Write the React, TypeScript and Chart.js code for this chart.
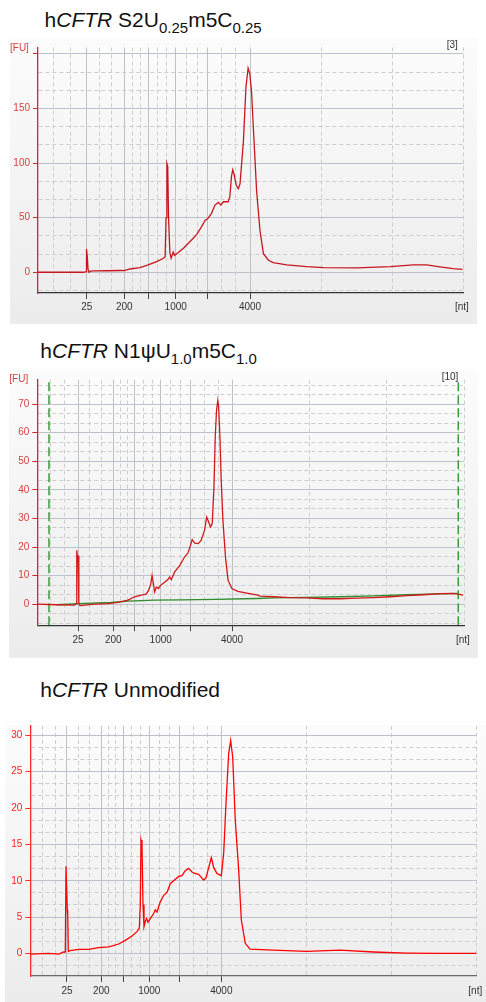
import React, { useEffect, useRef } from 'react';
import { Chart, registerables } from 'chart.js';

Chart.register(...registerables);

// ---------- Shared x-axis tick labels (nt, Bioanalyzer ladder) ----------
const ladderLabels = ['25', '200', '', '1000', '', '4000'];

// ---------- Panel 1: hCFTR S2U0.25 m5C0.25 (x = position along time axis, % of axis) ----------
const s2uPos = [0, 10.7, 11.3, 11.36, 11.45, 11.6, 11.76, 12.0, 12.4, 13.0, 16.2, 19.3, 20.3, 21.6, 24.0, 25.9, 27.9, 29.5, 29.9, 30.1, 30.3, 30.5, 30.7, 31.0, 31.3, 31.8, 32.1, 32.6, 33.4, 34.2, 35.7, 37.3, 38.5, 39.3, 40.0, 40.8, 41.6, 42.4, 43.0, 43.6, 44.7, 45.1, 45.5, 45.8, 46.1, 46.6, 47.1, 47.5, 48.3, 48.9, 49.4, 49.8, 50.2, 50.6, 51.0, 51.4, 52.2, 53.0, 54.2, 55.3, 58.5, 63.2, 67.1, 74.9, 82.8, 88.2, 91.4, 94.5, 97.6, 99.8];
const s2uFU = [0, 0, 0.5, 12, 21.3, 14, 3, 0, 1.0, 1.2, 1.4, 1.6, 1.5, 3, 4.3, 6.7, 9.8, 12.8, 14.5, 50, 99.7, 97, 50, 18, 13, 18.5, 15.5, 17, 19.5, 22, 28, 34.5, 42, 47.5, 49.5, 54, 61.6, 64, 61.6, 64.6, 64.6, 69, 88, 94, 90, 80, 76.5, 81, 120, 170, 187, 182, 166, 135, 105, 74.5, 38, 17, 11, 8.8, 6.7, 5.1, 4.2, 4, 5.1, 6.7, 6.7, 5, 3.3, 2.7];
const s2uXMajor = [11.45, 20.29, 25.93, 32.38, 39.90, 49.85];
const s2uXMinor = [3.76, 7.69, 14.40, 17.35, 22.17, 24.05, 28.08, 30.23, 34.89, 37.39, 43.22, 46.53, 66.71, 83.40, 100];
const s2uYMajor = [0, 50, 100, 150, 200];
const s2uYLabels = ['0', '50', '100', '150', ''];
const s2uYMinor = [-16.67, 16.67, 33.33, 66.67, 83.33, 116.67, 133.33, 166.67, 183.33];

// ---------- Panel 2: hCFTR N1ψU1.0 m5C1.0 ----------
const n1Pos = [0, 4.45, 8.76, 9.14, 9.2, 9.3, 9.47, 9.54, 9.7, 9.77, 10.0, 11.1, 13.45, 16.57, 18.9, 21.26, 22.8, 24.4, 25.5, 26.1, 26.6, 26.9, 27.2, 27.5, 27.9, 28.4, 28.9, 29.9, 30.6, 31.0, 31.4, 32.2, 33.4, 34.5, 35.3, 35.9, 36.3, 36.9, 37.7, 38.4, 39.2, 39.7, 40.0, 40.6, 41.0, 41.4, 41.7, 42.0, 42.3, 42.5, 42.8, 43.1, 43.5, 44.1, 44.7, 45.6, 47.0, 49.4, 51.7, 52.2, 55.3, 59.2, 63.1, 67.0, 70.9, 74.9, 78.7, 82.7, 86.6, 90.5, 94.4, 97.5, 99.8];
const n1FU = [0, -0.2, -0.3, 0.2, 10, 18.9, 15, 17, 8, 0.2, -0.5, -0.3, 0, 0.2, 0.6, 1.4, 2.6, 3.2, 3.5, 4.9, 7.2, 10, 7.2, 4.3, 6, 5.5, 6.6, 7.8, 8.6, 9.5, 8.6, 11.3, 13.6, 16.5, 17.9, 20.6, 22.6, 21.4, 21.2, 22.3, 25.9, 30.5, 29.4, 27, 28.2, 41, 58.5, 67.8, 71.3, 69, 58.5, 43.3, 29.4, 16.5, 8.4, 5.5, 4.5, 3.8, 3.2, 2.8, 2.6, 2.3, 2.2, 1.9, 1.9, 2.1, 2.3, 2.6, 3, 3.3, 3.7, 3.8, 3.2];
const n1BasePos = [4.45, 9.5, 17.3, 21.3, 27.5, 33.7, 41.6, 51.7, 55.3, 63.1, 70.9, 78.7, 86.6, 94.4, 98.7];
const n1BaseFU = [-0.2, 0.2, 0.6, 1.1, 1.4, 1.5, 1.7, 2.0, 2.2, 2.4, 2.6, 2.9, 3.3, 3.6, 3.8];
const n1Markers = [2.74, 98.66];
const n1XMajor = [9.54, 17.81, 22.83, 28.92, 35.95, 45.63];
const n1XMinor = [3.12, 6.33, 12.30, 15.06, 19.48, 21.16, 24.86, 26.89, 31.26, 33.61, 39.18, 42.40, 63.75, 81.88, 100];
const n1YMajor = [0, 10, 20, 30, 40, 50, 60, 70];
const n1YLabels = ['0', '10', '20', '30', '40', '50', '60', '70'];
const n1YMinor = [-6.67, -3.33, 3.33, 6.67, 13.33, 16.67, 23.33, 26.67, 33.33, 36.67, 43.33, 46.67, 53.33, 56.67, 63.33, 66.67, 73.33, 76.67];

// ---------- Panel 3: hCFTR Unmodified ----------
const unPos = [0, 4.12, 6.36, 7.48, 7.84, 8.0, 8.15, 8.29, 8.38, 8.51, 8.96, 10.84, 13.08, 15.32, 17.56, 19.8, 21.28, 22.78, 23.9, 24.42, 24.64, 24.8, 25.02, 25.25, 25.47, 25.76, 26.07, 26.37, 26.88, 27.64, 28.0, 28.38, 29.12, 29.88, 30.62, 31.36, 32.12, 33.24, 33.98, 34.72, 35.48, 36.22, 36.96, 37.72, 38.84, 39.36, 39.96, 40.55, 41.08, 41.82, 42.79, 43.32, 43.84, 44.44, 44.89, 45.34, 45.92, 46.68, 47.27, 48.16, 49.22, 54.44, 61.92, 69.38, 76.84, 84.32, 91.78, 100];
const unFU = [-0.1, 0, -0.1, 0.2, 0.2, 12, 12, 6, 5.5, 0.3, 0.4, 0.55, 0.55, 0.8, 0.9, 1.3, 1.8, 2.4, 3.0, 3.45, 6.7, 15.6, 14.9, 6.7, 3.7, 4.4, 4.8, 4.3, 4.8, 5.5, 6, 5.7, 7.1, 8, 8.4, 9.6, 10, 10.6, 10.7, 11.4, 11.7, 11.2, 11, 10.9, 10.1, 10.4, 11.8, 13.2, 11.8, 11, 10.7, 13.8, 20.7, 27.5, 29.3, 27, 18.3, 11.5, 4.6, 1.4, 0.6, 0.45, 0.3, 0.45, 0.2, 0.05, 0, 0];
const unXMajor = [8.22, 15.90, 20.77, 26.66, 33.38, 42.79];
const unXMinor = [2.78, 5.60, 10.78, 13.34, 17.52, 19.15, 22.73, 24.70, 28.90, 31.14, 36.52, 39.65, 61.86, 80.93, 100];
const unYMajor = [0, 5, 10, 15, 20, 25, 30];
const unYLabels = ['0', '5', '10', '15', '20', '25', '30'];
const unYMinor = [-1.67, 1.67, 3.33, 6.67, 8.33, 11.67, 13.33, 16.67, 18.33, 21.67, 23.33, 26.67, 28.33];

const FONT = '"Liberation Sans", Arial, Helvetica, sans-serif';
const GRID_MAJOR = '#bcc1cb';
const GRID_MINOR = '#cdcdcd';

type Trace = { x: number[]; y: number[]; color: string; width: number };
type PanelProps = {
  box: { l: number; t: number; w: number; h: number };
  plot: { l: number; r: number; t: number; b: number };
  yMin: number; yMax: number;
  yMajor: number[]; yLabels: string[]; yMinor: number[];
  xMajor: number[]; xLabels: string[]; xMinor: number[];
  traces: Trace[];
  markers?: number[];
  markerColor?: string;
  yAxisColor: string; yLabelColor: string; xAxisColor: string; xLabelPad: number;
};

const near = (arr: number[], v: number) => arr.findIndex((a) => Math.abs(a - v) < 1e-6);

function Panel(p: PanelProps) {
  const ref = useRef<HTMLCanvasElement>(null);
  const extra = 12;
  const cL = p.box.l, cT = p.box.t - extra, cW = p.box.w, cH = p.box.h + extra;
  useEffect(() => {
    const xTicks = [...p.xMajor, ...p.xMinor].sort((a, b) => a - b);
    const yTicks = [...p.yMajor, ...p.yMinor].sort((a, b) => a - b);
    const datasets: any[] = p.traces.map((t) => ({
      data: t.x.map((x, i) => ({ x, y: t.y[i] })),
      borderColor: t.color,
      borderWidth: t.width,
      pointRadius: 0,
      fill: false,
      tension: 0,
    }));
    (p.markers || []).forEach((m) => {
      datasets.push({
        data: [{ x: m, y: p.yMin }, { x: m, y: p.yMax }],
        borderColor: p.markerColor,
        borderWidth: 1.5,
        borderDash: [9, 4],
        pointRadius: 0,
        fill: false,
      });
    });
    const isMajorTick = (arr: number[]) => (c: any) => c.tick && near(arr, c.tick.value) >= 0;
    const xMaj = isMajorTick(p.xMajor);
    const yMaj = isMajorTick(p.yMajor);
    const chart = new Chart(ref.current as HTMLCanvasElement, {
      type: 'line',
      data: { datasets },
      options: {
        responsive: false,
        animation: false,
        devicePixelRatio: 1,
        events: [],
        layout: { padding: { top: p.plot.t - cT, right: cL + cW - p.plot.r, left: 0, bottom: 0 } },
        plugins: { legend: { display: false }, tooltip: { enabled: false }, title: { display: false } },
        scales: {
          x: {
            type: 'linear',
            min: 0,
            max: 100,
            afterBuildTicks: (s: any) => { s.ticks = xTicks.map((v) => ({ value: v })); },
            afterFit: (s: any) => { s.height = cT + cH - p.plot.b; },
            ticks: {
              autoSkip: false, maxRotation: 0, minRotation: 0, padding: p.xLabelPad,
              color: '#333', font: { family: FONT, size: 10 },
              callback: (v: any) => { const i = near(p.xMajor, Number(v)); return i >= 0 ? p.xLabels[i] : ''; },
            },
            grid: {
              color: (c: any) => (xMaj(c) ? GRID_MAJOR : GRID_MINOR),
              lineWidth: 1,
              tickLength: 6,
              tickColor: (c: any) => (xMaj(c) ? '#444' : 'rgba(0,0,0,0)'),
            },
            border: { display: true, color: p.xAxisColor, width: 1.2, dash: (c: any) => (c.tick && !xMaj(c) ? [4, 3] : []) },
          } as any,
          y: {
            type: 'linear',
            min: p.yMin,
            max: p.yMax,
            afterBuildTicks: (s: any) => { s.ticks = yTicks.map((v) => ({ value: v })); },
            afterFit: (s: any) => { s.width = p.plot.l - cL; },
            ticks: {
              autoSkip: false, padding: 3, color: p.yLabelColor, font: { family: FONT, size: 10 },
              callback: (v: any) => { const i = near(p.yMajor, Number(v)); return i >= 0 ? p.yLabels[i] : ''; },
            },
            grid: {
              color: (c: any) => (yMaj(c) ? GRID_MAJOR : GRID_MINOR),
              lineWidth: 1,
              tickLength: 5,
              tickColor: (c: any) => (yMaj(c) ? p.yAxisColor : 'rgba(0,0,0,0)'),
            },
            border: { display: true, color: p.yAxisColor, width: 1.3, dash: (c: any) => (c.tick && !yMaj(c) ? [4, 3] : []) },
          } as any,
        },
      },
    });
    return () => chart.destroy();
  }, []);
  return (
    <>
      <div style={{ position: 'absolute', left: p.box.l, top: p.box.t, width: p.box.w, height: p.box.h, background: 'linear-gradient(180deg, #fcfcfc 0%, #f3f3f3 55%, #ececec 100%)' }} />
      <canvas ref={ref} width={cW} height={cH} style={{ position: 'absolute', left: cL, top: cT, width: cW, height: cH }} />
    </>
  );
}

const Sub = ({ children }: { children: any }) => (
  <span style={{ fontSize: 15, position: 'relative', top: 6 }}>{children}</span>
);

const labelStyle = (left: number, top: number, color: string): React.CSSProperties => ({
  position: 'absolute', left, top, fontFamily: FONT, fontSize: 10, lineHeight: '10px', color, whiteSpace: 'nowrap',
});

const titleStyle = (left: number, top: number): React.CSSProperties => ({
  position: 'absolute', left, top, fontFamily: FONT, fontSize: 21, lineHeight: '21px', color: '#111', whiteSpace: 'nowrap',
});

export default function App() {
  return (
    <div style={{ position: 'absolute', left: 0, top: 0, width: 486, height: 1002, background: '#fff', overflow: 'hidden' }}>
      {/* Panel 1 */}
      <div style={titleStyle(44.6, 8.9)}>h<i>CFTR</i> S2U<Sub>0.25</Sub>m5C<Sub>0.25</Sub></div>
      <Panel
        box={{ l: 10, t: 38, w: 467, h: 286 }}
        plot={{ l: 38, r: 463.3, t: 47.45, b: 293.0 }}
        yMin={-19} yMax={206}
        yMajor={s2uYMajor} yLabels={s2uYLabels} yMinor={s2uYMinor}
        xMajor={s2uXMajor} xLabels={ladderLabels} xMinor={s2uXMinor}
        traces={[{ x: s2uPos, y: s2uFU, color: '#c8161e', width: 1.3 }]}
        yAxisColor="#d02828" yLabelColor="#d84040" xAxisColor="#333" xLabelPad={2}
      />
      <div style={labelStyle(10, 42.7, '#d84040')}>[FU]</div>
      <div style={labelStyle(446.7, 40, '#333')}>[3]</div>
      <div style={labelStyle(455, 301.7, '#333')}>[nt]</div>

      {/* Panel 2 */}
      <div style={titleStyle(40.3, 339.5)}>h<i>CFTR</i> N1ψU<Sub>1.0</Sub>m5C<Sub>1.0</Sub></div>
      <Panel
        box={{ l: 9, t: 370, w: 469, h: 288 }}
        plot={{ l: 37.3, r: 464, t: 379.6, b: 625.2 }}
        yMin={-7.35} yMax={78.6}
        yMajor={n1YMajor} yLabels={n1YLabels} yMinor={n1YMinor}
        xMajor={n1XMajor} xLabels={ladderLabels} xMinor={n1XMinor}
        traces={[
          { x: n1Pos, y: n1FU, color: '#d01818', width: 1.3 },
          { x: n1BasePos, y: n1BaseFU, color: '#2e8b2e', width: 1.3 },
        ]}
        markers={n1Markers} markerColor="#3a9a3a"
        yAxisColor="#d02828" yLabelColor="#d84040" xAxisColor="#333" xLabelPad={3}
      />
      <div style={labelStyle(9.3, 374.3, '#d84040')}>[FU]</div>
      <div style={labelStyle(441.7, 371.7, '#333')}>[10]</div>
      <div style={labelStyle(456, 635, '#333')}>[nt]</div>

      {/* Panel 3 */}
      <div style={titleStyle(40.3, 678.9)}>h<i>CFTR</i> Unmodified</div>
      <Panel
        box={{ l: 5, t: 725, w: 481, h: 277 }}
        plot={{ l: 30.3, r: 476.7, t: 725.95, b: 976.0 }}
        yMin={-3.1} yMax={31.3}
        yMajor={unYMajor} yLabels={unYLabels} yMinor={unYMinor}
        xMajor={unXMajor} xLabels={ladderLabels} xMinor={unXMinor}
        traces={[{ x: unPos, y: unFU, color: '#ff0000', width: 1.3 }]}
        yAxisColor="#ff2a2a" yLabelColor="#ff2020" xAxisColor="#6a6a6a" xLabelPad={3}
      />
      <div style={labelStyle(468.3, 986, '#333')}>[nt]</div>
    </div>
  );
}
